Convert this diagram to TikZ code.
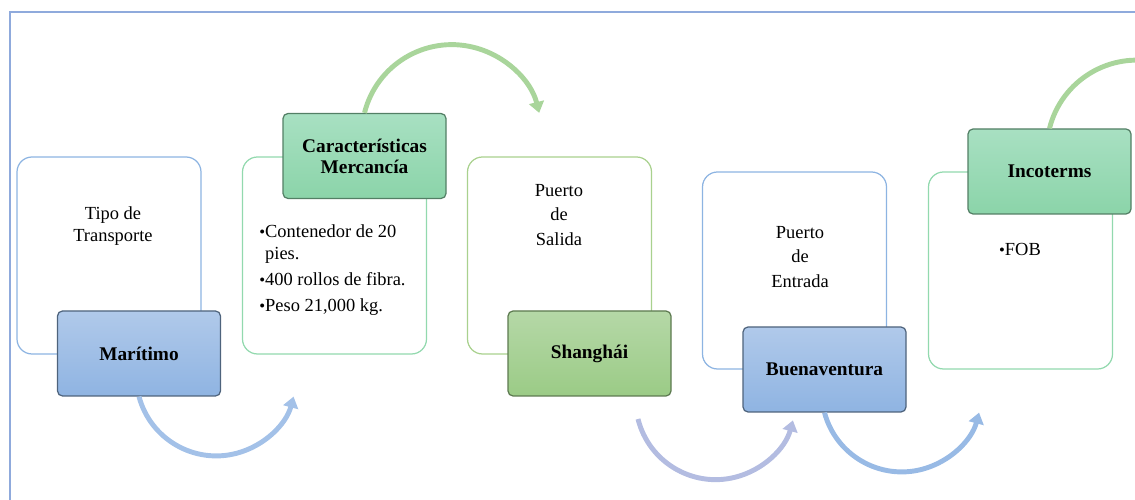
\documentclass[tikz,border=0pt]{standalone}
\usepackage{fontspec}
\setmainfont{Liberation Serif}
\usetikzlibrary{arrows.meta}
\definecolor{marco}{HTML}{8FAADC}
\definecolor{bordeazul}{HTML}{8DB4E2}
\definecolor{bordementa}{HTML}{92D9AE}
\definecolor{bordeverde}{HTML}{A9D18E}
\definecolor{azularriba}{HTML}{B0C9EA}
\definecolor{azulabajo}{HTML}{8FB4E2}
\definecolor{mentaarriba}{HTML}{A8E0C2}
\definecolor{mentaabajo}{HTML}{8BD4A9}
\definecolor{verdearriba}{HTML}{B5D8A7}
\definecolor{verdeabajo}{HTML}{9BCB86}
\definecolor{flechaazul}{HTML}{A3C1E8}
\definecolor{flechaverde}{HTML}{A9D59B}
\definecolor{flechalila}{HTML}{B3BCE1}
\definecolor{flechaazul2}{HTML}{98BAE5}
\newcommand{\punto}{\scalebox{0.9}{\textbullet}}
\begin{document}
\begin{tikzpicture}[
    caja/.style={draw,fill=white,rounded corners=0.3cm,line width=0.7pt,minimum width=3.68cm,minimum height=3.94cm},
    titulo/.style={draw,rounded corners=0.1cm,line width=0.7pt,minimum width=3.26cm,minimum height=1.70cm,font=\fontsize{11}{12}\selectfont\bfseries,align=center},
    texto/.style={font=\fontsize{10.5}{14}\selectfont,align=center},
    flecha/.style={line width=2.8pt,-{Triangle[length=0.22cm,width=0.3cm]}}
]
    \useasboundingbox(0,0) rectangle (22.7,10);
    \clip(0,0) rectangle (22.7,10);
    %marco
    \draw[color=marco,line width=1.6pt](0.2,-1) rectangle (24,9.76);
    %cajas blancas
    \node[caja,draw=bordeazul] (caja1) at (2.18,4.89) {};
    \node[caja,draw=bordementa] (caja2) at (6.69,4.89) {};
    \node[caja,draw=bordeverde] (caja3) at (11.19,4.89) {};
    \node[caja,draw=bordeazul] (caja4) at (15.89,4.59) {};
    \node[caja,draw=bordementa] (caja5) at (20.41,4.59) {};
    %titulos
    \node[titulo,draw=black!45!bordeazul,top color=azularriba,bottom color=azulabajo] (maritimo) at (2.78,2.93) {Marítimo};
    \node[titulo,draw=black!40!mentaabajo,top color=mentaarriba,bottom color=mentaabajo] (carac) at (7.29,6.88) {Características\\Mercancía};
    \node[titulo,draw=black!40!verdeabajo,top color=verdearriba,bottom color=verdeabajo] (shanghai) at (11.79,2.93) {Shanghái};
    \node[titulo,draw=black!45!bordeazul,top color=azularriba,bottom color=azulabajo] (buenav) at (16.49,2.61) {Buenaventura};
    \node[titulo,draw=black!40!mentaabajo,top color=mentaarriba,bottom color=mentaabajo] (inco) at (20.99,6.57) {Incoterms};
    %textos
    \node[texto,font=\fontsize{10.5}{12.5}\selectfont] (tipo) at (2.26,5.48) {Tipo de\\Transporte};
    \node[font=\fontsize{10.5}{12}\selectfont,anchor=base west,inner sep=0pt] (lista) at (5.18,5.24) {%
        \begin{tabular}[t]{@{}l@{}l@{}}
        \punto & Contenedor de 20\\
               & pies.\\[2.8pt]
        \punto & 400 rollos de fibra.\\[2.8pt]
        \punto & Peso 21,000 kg.
        \end{tabular}};
    \node[texto] (salida) at (11.18,5.70) {Puerto\\de\\Salida};
    \node[texto] (entrada) at (16.0,4.86) {Puerto\\de\\Entrada};
    \node[texto] (fob) at (20.40,5.02) {\punto FOB};
    %flechas
    \coordinate (ini3) at (12.76,1.62);
    \draw[flecha,color=flechaazul](maritimo.south) arc[start angle=195,end angle=345,radius=1.6cm];
    \draw[flecha,color=flechaverde](carac.north) arc[start angle=166,end angle=14,radius=1.8cm];
    \draw[flecha,color=flechalila](ini3) arc[start angle=194,end angle=345,radius=1.6cm];
    \draw[flecha,color=flechaazul2](buenav.south) arc[start angle=195,end angle=345,radius=1.6cm];
    \draw[flecha,color=flechaverde](inco.north) arc[start angle=166,end angle=14,radius=1.8cm];
\end{tikzpicture}
\end{document}
